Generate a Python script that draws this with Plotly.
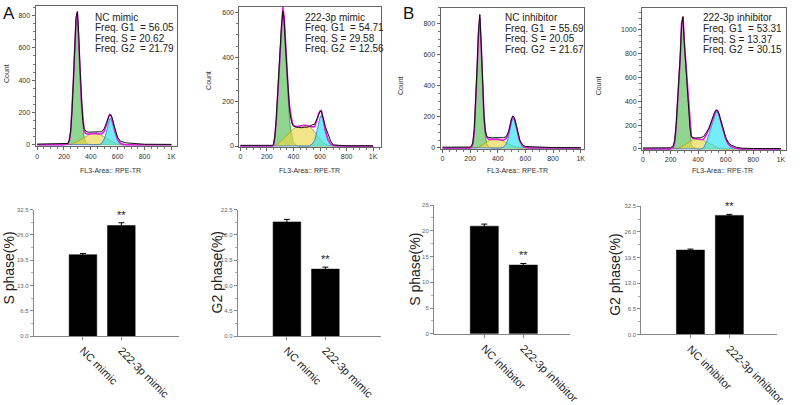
import plotly.graph_objects as go

W, H = 800, 405

# ------------------------------------------------------------------ data
hist_xticks = [0, 200, 400, 600, 800, 1000]
hist_xticklabels = ["0", "200", "400", "600", "800", "1K"]

samples = ["NC mimic", "222-3p mimic", "NC inhibitor", "222-3p inhibitor"]
freq_g1 = [56.05, 54.71, 55.69, 53.31]
freq_s = [20.62, 29.58, 20.05, 13.37]
freq_g2 = [21.79, 12.56, 21.67, 30.15]

# panel 1: NC mimic
x1 = [0, 200, 230, 240, 250, 260, 270, 280, 290, 300,
      310, 320, 330, 340, 350, 360, 380, 400, 420, 440,
      460, 480, 500, 510, 520, 530, 540, 550, 560, 570,
      580, 600, 620, 640, 660, 700, 750, 800, 1000]
hist1 = [4, 4, 8, 30, 85, 205, 390, 590, 790, 826,
         690, 470, 280, 150, 100, 85, 78, 78, 80, 80,
         76, 80, 100, 120, 148, 172, 186, 184, 165, 130,
         95, 45, 22, 15, 12, 9, 5, 3, 2]
g1_1 = [0, 0, 5, 25, 80, 200, 380, 580, 760, 800,
        650, 430, 240, 110, 45, 18, 4, 0, 0, 0,
        0, 0, 0, 0, 0, 0, 0, 0, 0, 0,
        0, 0, 0, 0, 0, 0, 0, 0, 0]
s_1 = [0, 0, 0, 0, 2, 5, 8, 12, 16, 20,
       25, 30, 36, 42, 48, 53, 62, 68, 70, 70,
       66, 58, 48, 43, 37, 32, 27, 22, 17, 13,
       9, 4, 1, 0, 0, 0, 0, 0, 0]
g2_1 = [0, 0, 0, 0, 0, 0, 0, 0, 0, 0,
        0, 0, 0, 0, 0, 0, 0, 0, 0, 0,
        0, 8, 35, 60, 95, 135, 160, 162, 140, 108,
        75, 28, 8, 2, 0, 0, 0, 0, 0]

# panel 2: 222-3p mimic
x2 = [0, 200, 240, 250, 260, 270, 280, 290, 300, 310,
      320, 330, 340, 350, 360, 370, 380, 390, 400, 420,
      440, 460, 480, 500, 520, 540, 560, 570, 580, 590,
      600, 610, 620, 630, 640, 660, 680, 700, 750, 800,
      1000]
hist2 = [3, 3, 3, 8, 45, 120, 230, 345, 445, 550,
         607, 565, 450, 335, 240, 165, 125, 100, 90, 85,
         84, 82, 85, 84, 88, 95, 98, 112, 130, 146,
         155, 156, 138, 112, 88, 50, 22, 5, 2, 1,
         1]
g1_2 = [0, 0, 0, 5, 40, 110, 220, 330, 430, 530,
        595, 545, 420, 300, 200, 120, 70, 35, 15, 4,
        0, 0, 0, 0, 0, 0, 0, 0, 0, 0,
        0, 0, 0, 0, 0, 0, 0, 0, 0, 0,
        0]
s_2 = [0, 0, 0, 0, 2, 5, 9, 13, 18, 24,
       30, 36, 42, 48, 55, 61, 67, 72, 77, 84,
       89, 92, 93, 92, 88, 78, 62, 53, 44, 36,
       28, 22, 16, 12, 8, 3, 1, 0, 0, 0,
       0]
g2_2 = [0, 0, 0, 0, 0, 0, 0, 0, 0, 0,
        0, 0, 0, 0, 0, 0, 0, 0, 0, 0,
        0, 0, 0, 0, 0, 8, 25, 50, 80, 110,
        130, 138, 122, 92, 64, 26, 8, 2, 0, 0,
        0]

# panel 3: NC inhibitor
x3 = [0, 180, 200, 210, 220, 230, 240, 250, 260, 270,
      280, 290, 300, 310, 320, 330, 340, 360, 380, 400,
      420, 440, 460, 470, 480, 490, 500, 510, 520, 530,
      540, 550, 560, 580, 600, 640, 700, 800, 1000]
hist3 = [5, 5, 6, 12, 40, 125, 285, 515, 750, 858,
         665, 390, 210, 105, 75, 68, 66, 65, 66, 66,
         67, 66, 72, 88, 110, 150, 190, 206, 195, 160,
         120, 80, 48, 20, 10, 8, 5, 3, 2]
g1_3 = [0, 0, 0, 5, 30, 110, 270, 500, 730, 830,
        640, 360, 180, 75, 30, 12, 5, 0, 0, 0,
        0, 0, 0, 0, 0, 0, 0, 0, 0, 0,
        0, 0, 0, 0, 0, 0, 0, 0, 0]
s_3 = [0, 0, 0, 0, 0, 0, 0, 2, 5, 9,
       14, 20, 27, 34, 40, 46, 50, 55, 57, 56,
       52, 45, 35, 30, 25, 20, 15, 11, 8, 5,
       3, 1, 0, 0, 0, 0, 0, 0, 0]
g2_3 = [0, 0, 0, 0, 0, 0, 0, 0, 0, 0,
        0, 0, 0, 0, 0, 0, 0, 0, 0, 0,
        0, 5, 25, 45, 80, 125, 170, 190, 180, 150,
        110, 70, 42, 12, 3, 0, 0, 0, 0]

# panel 4: 222-3p inhibitor
x4 = [0, 180, 200, 220, 230, 240, 250, 260, 270, 280,
      290, 300, 310, 320, 330, 340, 350, 360, 380, 400,
      420, 440, 460, 480, 500, 510, 520, 530, 540, 550,
      560, 570, 580, 600, 620, 640, 680, 720, 800, 1000]
hist4 = [8, 8, 10, 27, 75, 195, 380, 560, 780, 1050,
         1110, 890, 720, 545, 350, 190, 105, 95, 92, 92,
         95, 105, 135, 175, 245, 285, 312, 326, 322, 298,
         258, 212, 168, 98, 52, 32, 13, 6, 4, 3]
g1_4 = [0, 0, 0, 15, 60, 180, 360, 540, 760, 1040,
        1090, 860, 690, 520, 330, 130, 40, 15, 5, 0,
        0, 0, 0, 0, 0, 0, 0, 0, 0, 0,
        0, 0, 0, 0, 0, 0, 0, 0, 0, 0]
s_4 = [0, 0, 0, 0, 0, 0, 2, 6, 12, 18,
       25, 32, 40, 48, 56, 64, 70, 75, 80, 82,
       80, 72, 60, 45, 32, 26, 20, 15, 11, 7,
       4, 2, 0, 0, 0, 0, 0, 0, 0, 0]
g2_4 = [0, 0, 0, 0, 0, 0, 0, 0, 0, 0,
        0, 0, 0, 0, 0, 0, 0, 0, 0, 0,
        0, 10, 60, 130, 205, 250, 290, 310, 312, 290,
        250, 205, 160, 85, 40, 18, 4, 0, 0, 0]

# bar charts
cats_mimic = ["NC mimic", "222-3p mimic"]
cats_inh = ["NC inhibitor", "222-3p inhibitor"]
s_mimic = [20.9, 28.4]
s_mimic_err = [0.3, 0.7]
g2_mimic = [20.3, 11.9]
g2_mimic_err = [0.45, 0.35]
s_inh = [20.9, 13.35]
s_inh_err = [0.4, 0.3]
g2_inh = [21.4, 30.2]
g2_inh_err = [0.25, 0.25]
signif = ["", "**"]

# ------------------------------------------------------------------ helpers
FONT = "Arial, Liberation Sans, sans-serif"


def px(p):
    return p / W


def py(p):
    return 1 - p / H


fig = go.Figure()
layout = dict(width=W, height=H, margin=dict(l=0, r=0, t=0, b=0),
              paper_bgcolor="white", plot_bgcolor="white",
              showlegend=False, font=dict(family=FONT, color="#222"))
annotations = []


def label(x, y, text, size, color="#222", angle=0, xanchor="center"):
    annotations.append(dict(x=px(x), y=py(y), xref="paper", yref="paper", text=text,
                            textangle=angle, showarrow=False, xanchor=xanchor,
                            yanchor="middle", font=dict(size=size, color=color)))


hist_panels = [
    dict(x=x1, h=hist1, g1=g1_1, s=s_1, g2=g2_1, dx=(35, 178), dy=(3, 147.5),
         xr=(-12, 1039), yr=(-11, 860), tx=93, ty=[15, 25.5, 36.5, 47],
         cx=5, cy=72, fx=111, fy=172),
    dict(x=x2, h=hist2, g1=g1_2, s=s_2, g2=g2_2, dx=(241.7, 385), dy=(4, 148),
         xr=(-7.4, 1057), yr=(-4.4, 626), tx=306, ty=[15, 25.5, 36.5, 47],
         cx=211, cy=80, fx=313, fy=172),
    dict(x=x3, h=hist3, g1=g1_3, s=s_3, g2=g2_3, dx=(445.7, 590.7), dy=(5, 150),
         xr=(-14.3, 1021), yr=(-6, 900), tx=509, ty=[15, 26, 37, 48],
         cx=405, cy=85, fx=524, fy=172),
    dict(x=x4, h=hist4, g1=g1_4, s=s_4, g2=g2_4, dx=(650, 795.7), dy=(5, 151),
         xr=(-7, 1036), yr=(-8, 1186), tx=710, ty=[15, 26.5, 37.5, 48],
         cx=606, cy=85, fx=732, fy=172),
]

for i, p in enumerate(hist_panels):
    n = i + 1
    xa = "x" if n == 1 else f"x{n}"
    ya = "y" if n == 1 else f"y{n}"
    assert len(p["x"]) == len(p["h"]) == len(p["g1"]) == len(p["s"]) == len(p["g2"])
    for comp, fc, lc in [(p["g1"], "rgba(70,185,70,0.6)", "rgba(30,140,30,0.9)"),
                         (p["s"], "rgba(235,215,70,0.65)", "rgba(170,150,20,0.9)"),
                         (p["g2"], "rgba(40,225,245,0.65)", "rgba(40,90,230,0.9)")]:
        fig.add_trace(go.Scatter(x=p["x"], y=comp, mode="lines", fill="tozeroy",
                                 fillcolor=fc, line=dict(color=lc, width=0.8),
                                 xaxis=xa, yaxis=ya, hoverinfo="skip"))
    total = [a + b + c for a, b, c in zip(p["g1"], p["s"], p["g2"])]
    fig.add_trace(go.Scatter(x=p["x"], y=total, mode="lines",
                             line=dict(color="#e020e0", width=1.6),
                             xaxis=xa, yaxis=ya, hoverinfo="skip"))
    fig.add_trace(go.Scatter(x=p["x"], y=p["h"], mode="lines",
                             line=dict(color="#111111", width=1),
                             xaxis=xa, yaxis=ya, hoverinfo="skip"))
    axk = "xaxis" if n == 1 else f"xaxis{n}"
    ayk = "yaxis" if n == 1 else f"yaxis{n}"
    layout[axk] = dict(domain=[px(p["dx"][0]), px(p["dx"][1])], range=list(p["xr"]),
                       anchor=ya, showgrid=False, zeroline=False, showline=True,
                       linecolor="#666", linewidth=1, mirror=True,
                       tickvals=hist_xticks, ticktext=hist_xticklabels,
                       ticks="outside", ticklen=3, tickcolor="#666",
                       minor=dict(ticks="outside", ticklen=2, dtick=50, tickcolor="#777"),
                       tickfont=dict(size=7, color="#333"))
    layout[ayk] = dict(domain=[py(p["dy"][1]), py(p["dy"][0])], range=list(p["yr"]),
                       anchor=xa, showgrid=False, zeroline=False, showline=True,
                       linecolor="#666", linewidth=1, mirror=True,
                       tick0=0, dtick=200, ticks="outside", ticklen=3, tickcolor="#666",
                       minor=dict(ticks="outside", ticklen=2, dtick=50, tickcolor="#777"),
                       tickfont=dict(size=7, color="#333"))
    lines = [samples[i],
             f"Freq. G1 \u00a0= {freq_g1[i]:.2f}",
             f"Freq. S = {freq_s[i]:.2f}",
             f"Freq. G2 \u00a0= {freq_g2[i]:.2f}"]
    for txt, yy in zip(lines, p["ty"]):
        label(p["tx"], yy, txt, 10, xanchor="left")
    label(p["cx"], p["cy"], "Count", 7, "#333", angle=-90)
    label(p["fx"], p["fy"], "FL3-Area:: RPE-TR", 7, "#333")

bar_panels = [
    dict(c=cats_mimic, v=s_mimic, e=s_mimic_err, title="S phase(%)",
         dx=(33.3, 180), dy=(212.3, 342.3), xr=(-1.28, 2.49), ymax=32.5, dt=6.5,
         fmt=".1f", tcx=8, tcy=272),
    dict(c=cats_mimic, v=g2_mimic, e=g2_mimic_err, title="G2 phase(%)",
         dx=(240, 385), dy=(212.3, 342.3), xr=(-1.28, 2.44), ymax=22.5, dt=4.5,
         fmt=".1f", tcx=219, tcy=277),
    dict(c=cats_inh, v=s_inh, e=s_inh_err, title="S phase(%)",
         dx=(439, 576.7), dy=(207.7, 340), xr=(-1.29, 2.19), ymax=25, dt=5,
         fmt="d", tcx=419, tcy=274),
    dict(c=cats_inh, v=g2_inh, e=g2_inh_err, title="G2 phase(%)",
         dx=(649.3, 786.7), dy=(209, 340.7), xr=(-1.26, 2.22), ymax=32.5, dt=6.5,
         fmt=".1f", tcx=623, tcy=279),
]

for j, b in enumerate(bar_panels):
    n = j + 5
    xa, ya = f"x{n}", f"y{n}"
    fig.add_trace(go.Bar(x=b["c"], y=b["v"], width=0.72,
                         marker=dict(color="black", line=dict(color="black", width=0.5)),
                         error_y=dict(type="data", array=b["e"], color="black",
                                      thickness=1, width=3),
                         xaxis=xa, yaxis=ya, hoverinfo="skip"))
    layout[f"xaxis{n}"] = dict(domain=[px(b["dx"][0]), px(b["dx"][1])], range=list(b["xr"]),
                               anchor=ya, type="category", showgrid=False, zeroline=False,
                               showline=True, linecolor="#888", linewidth=1,
                               ticks="outside", ticklen=3, tickcolor="#888",
                               tickangle=45, tickfont=dict(size=11, color="#222"))
    layout[f"yaxis{n}"] = dict(domain=[py(b["dy"][1]), py(b["dy"][0])], range=[0, b["ymax"]],
                               anchor=xa, showgrid=False, zeroline=False, showline=True,
                               linecolor="#888", linewidth=1, tick0=0, dtick=b["dt"],
                               tickformat=b["fmt"], ticks="outside", ticklen=3,
                               tickcolor="#888", tickfont=dict(size=6, color="#666"),
                               minor=dict(ticks="outside", ticklen=2, dtick=b["dt"] / 2,
                                          tickcolor="#aaa"))
    for cat, val, err, sg in zip(b["c"], b["v"], b["e"], signif):
        if sg:
            annotations.append(dict(x=cat, y=val + err, xref=xa, yref=ya, text=sg,
                                    showarrow=False, xanchor="center", yanchor="bottom",
                                    font=dict(size=11, color="#222")))
    label(b["tcx"], b["tcy"], b["title"], 14, angle=-90)

label(8, 11, "A", 17, "#111")
label(413, 11, "B", 17, "#111")

layout["annotations"] = annotations
fig.update_layout(**layout)
fig.write_html("out.html", config={"displayModeBar": False},
               post_script="document.body.style.margin='0px';"
                           "document.body.style.overflow='hidden';")
